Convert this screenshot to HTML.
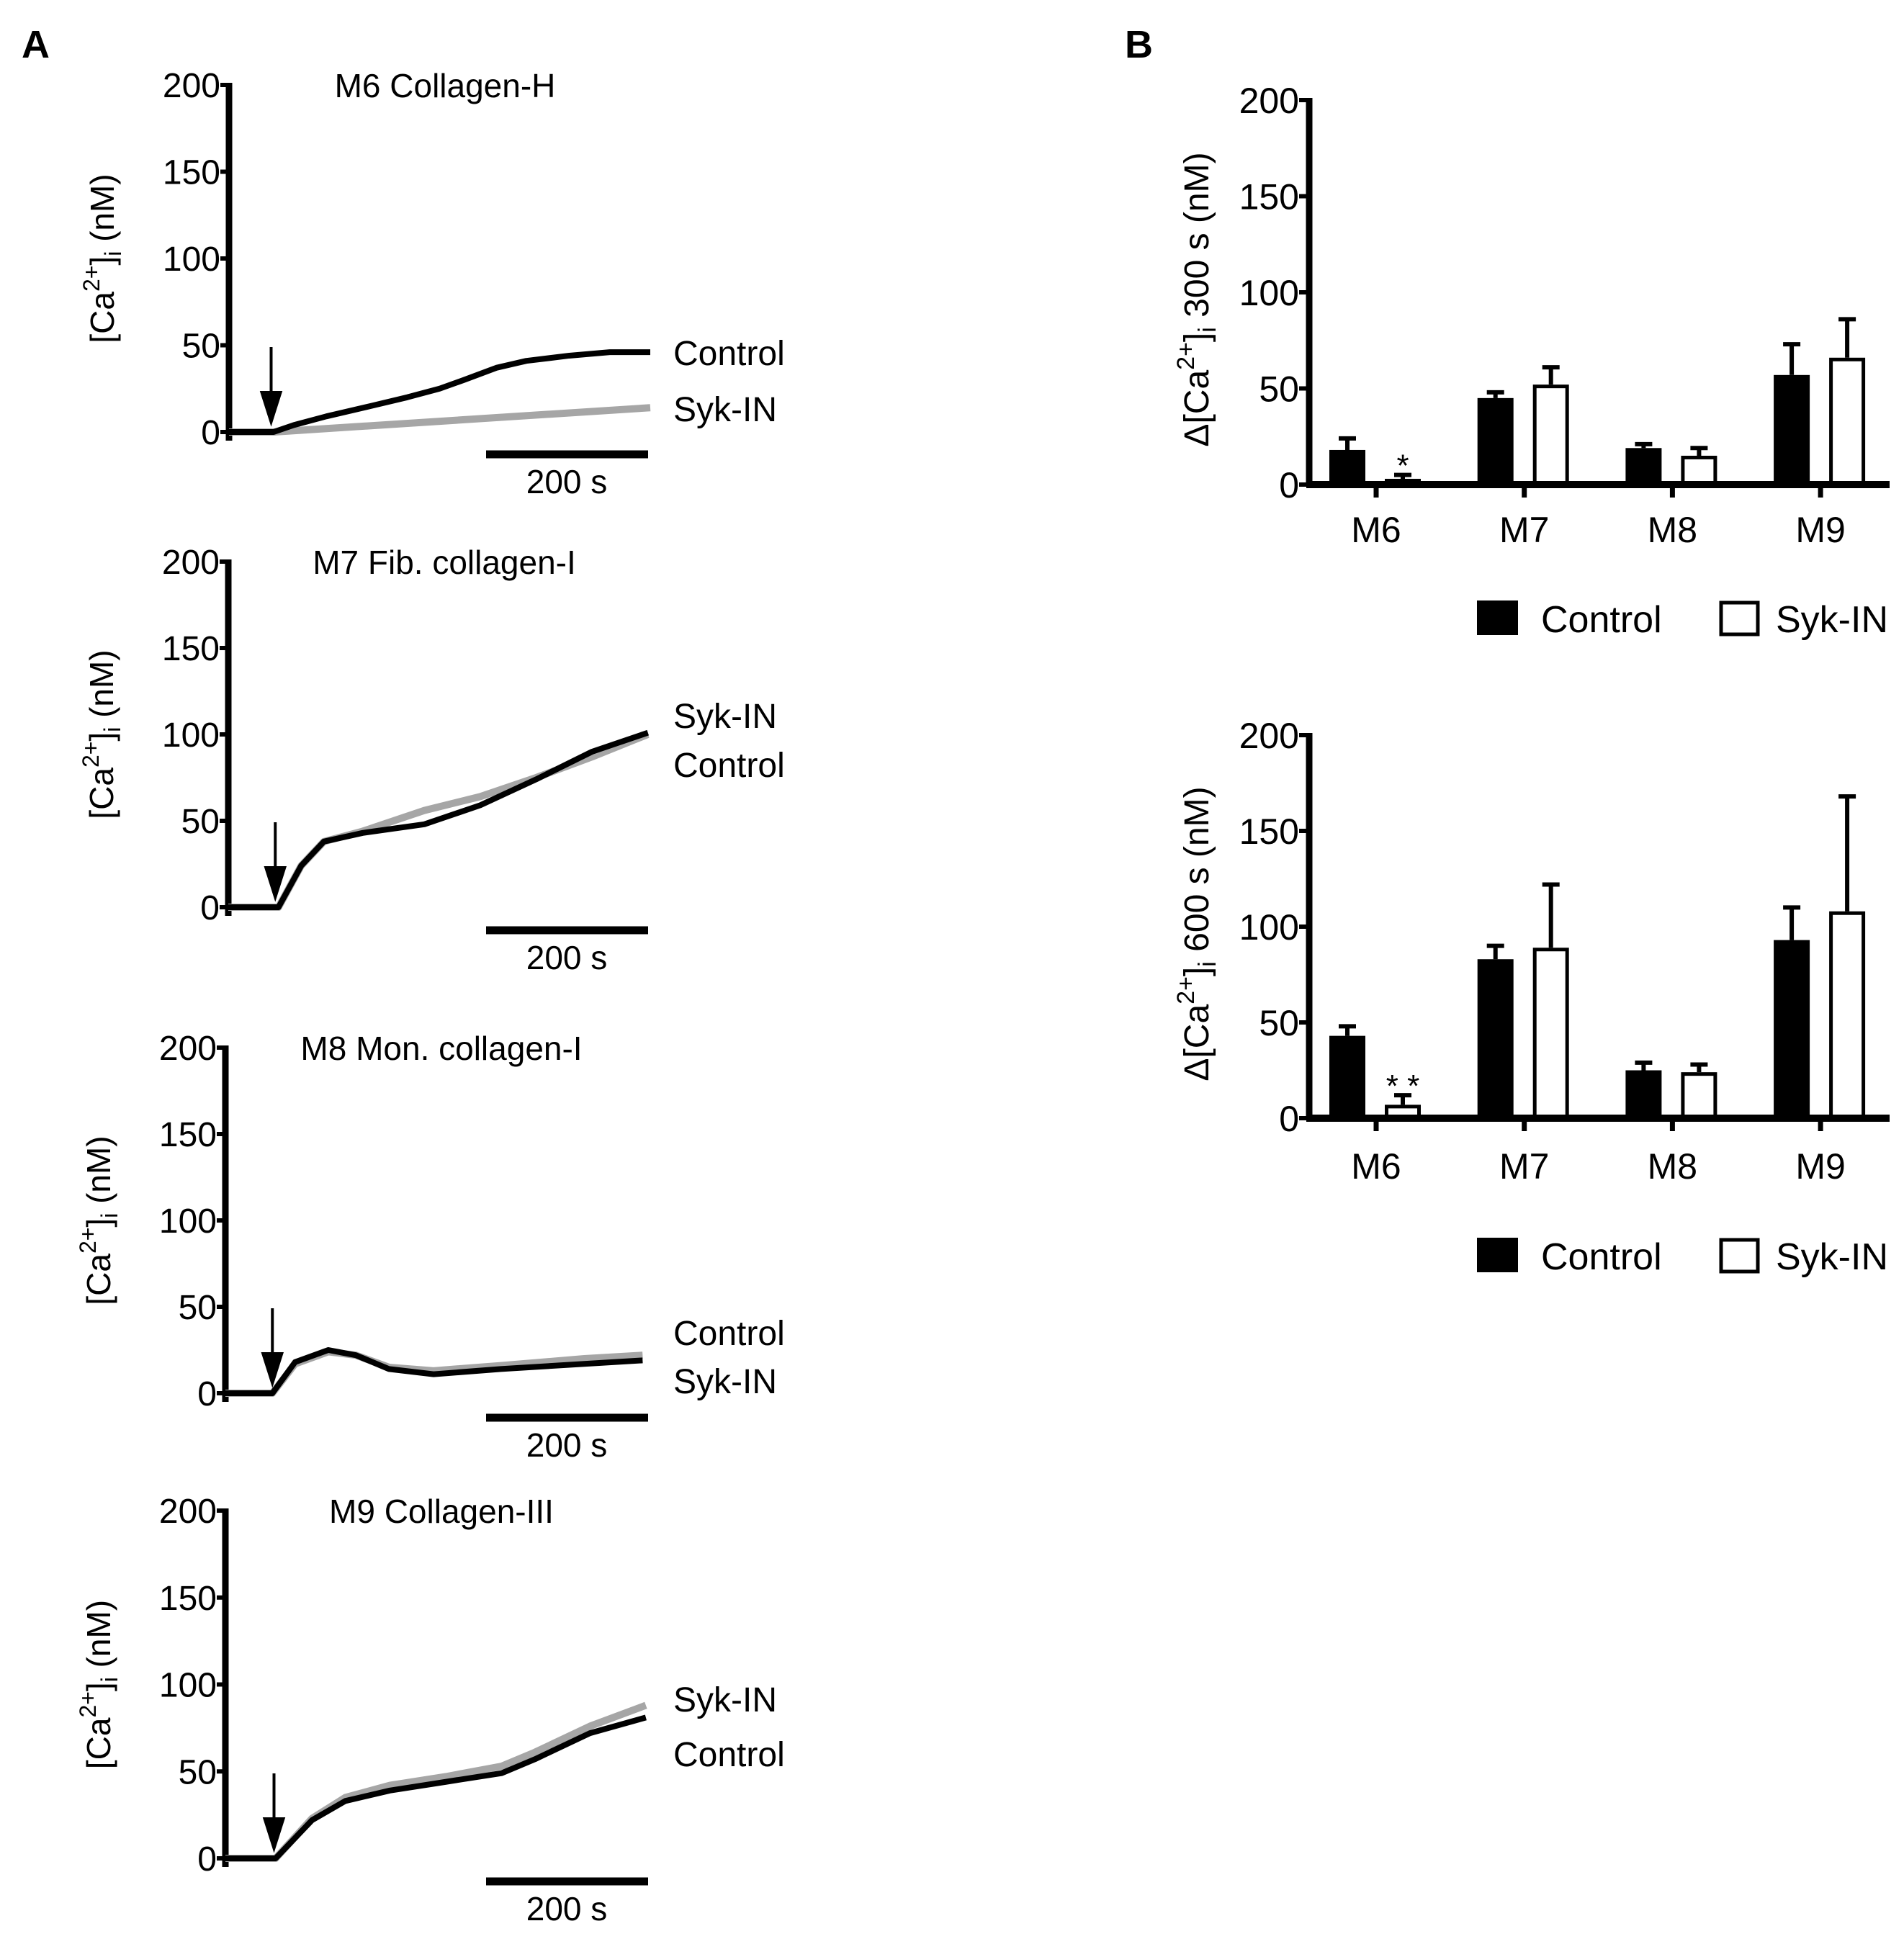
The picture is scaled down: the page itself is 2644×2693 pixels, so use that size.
<!DOCTYPE html>
<html><head><meta charset="utf-8"><style>
html,body{margin:0;padding:0;background:#fff}
svg{display:block}
text{font-family:"Liberation Sans",sans-serif;fill:#000}
</style></head><body>
<svg id="fig" width="2644" height="2693" viewBox="0 0 2644 2693" xmlns="http://www.w3.org/2000/svg">
<text x="30" y="80" font-size="54" font-weight="bold">A</text>
<text x="1562" y="80" font-size="54" font-weight="bold">B</text>
<g id="panels"></g>
</svg>
<script>
// ---- Panel A trace data (time in s, [Ca2+] in nM) ----
const tM6 = [0, 55, 80, 120, 175, 220, 260, 290, 330, 367, 420, 470, 520];
const ctrlM6 = [0, 0, 4, 9, 15, 20, 25, 30, 37, 41, 44, 46, 46];
const sykM6T = [0, 55, 520];
const sykM6 = [0, 0, 14];

const tM7 = [0, 62, 90, 118, 166, 242, 311, 380, 449, 518];
const ctrlM7 = [0, 0, 24, 38, 43, 48, 59, 74, 90, 101];
const sykM7 = [0, 0, 24, 38, 44, 56, 64, 75, 87, 100];

const tM8 = [0, 58, 86, 127, 161, 202, 257, 340, 443, 515];
const ctrlM8 = [0, 0, 18, 25, 22, 14, 11, 14, 17, 19];
const sykM8 = [0, 0, 17, 24, 22, 15, 13, 16, 20, 22];

const tM9 = [0, 62, 107, 148, 203, 272, 341, 382, 450, 519];
const ctrlM9 = [0, 0, 22, 33, 39, 44, 49, 57, 72, 81];
const sykM9 = [0, 0, 23, 35, 42, 47, 53, 61, 76, 88];

const aTicks = [0, 50, 100, 150, 200];

// ---- Panel B bar data ----
const groups = ["M6", "M7", "M8", "M9"];
const ctrl300 = [18, 45, 19, 57];
const ctrl300Err = [6, 3, 2, 16];
const syk300 = [3, 52, 15, 66];
const syk300Err = [2, 9, 4, 20];
const ctrl600 = [43, 83, 25, 93];
const ctrl600Err = [5, 7, 4, 17];
const syk600 = [7, 89, 24, 108];
const syk600Err = [5, 33, 4, 60];
const sig300Syk = ["*", "", "", ""];
const sig600Syk = ["**", "", "", ""];

const NS = "http://www.w3.org/2000/svg";
const root = document.getElementById("panels");
function mk(tag, attrs, parent) {
  const e = document.createElementNS(NS, tag);
  for (const k in attrs) e.setAttribute(k, attrs[k]);
  (parent || root).appendChild(e);
  return e;
}

const aPanels = [
  {title: "M6 Collagen-H", x0: 318, y200: 118, y0: 600, tc: tM6, c: ctrlM6, ts: sykM6T, s: sykM6, arrowT: 52, labels: [["Control", 490], ["Syk-IN", 568]], bar: 631, key: "m6"},
  {title: "M7 Fib. collagen-I", x0: 317, y200: 780, y0: 1260, tc: tM7, c: ctrlM7, ts: tM7, s: sykM7, arrowT: 58, labels: [["Syk-IN", 994], ["Control", 1062]], bar: 1292, key: "m7"},
  {title: "M8 Mon. collagen-I", x0: 313, y200: 1455, y0: 1935, tc: tM8, c: ctrlM8, ts: tM8, s: sykM8, arrowT: 58, labels: [["Control", 1851], ["Syk-IN", 1918]], bar: 1969, key: "m8"},
  {title: "M9 Collagen-III", x0: 313, y200: 2098, y0: 2581, tc: tM9, c: ctrlM9, ts: tM9, s: sykM9, arrowT: 60, labels: [["Syk-IN", 2360], ["Control", 2436]], bar: 2613, key: "m9"}
];
const pxPerS = 1.125;

aPanels.forEach(p => {
  const g = mk("g", {});
  
  
  const X = t => p.x0 + t * pxPerS;
  const Y = v => p.y0 - (v / 200) * (p.y0 - p.y200);
  const ax = mk("line", {x1: p.x0, y1: Y(200) - 3, x2: p.x0, y2: Y(0) + 12, stroke: "#000", "stroke-width": 9}, g);
  
  
  aTicks.forEach(v => {
    const tk = mk("line", {x1: p.x0 - 12, y1: Y(v), x2: p.x0, y2: Y(v), stroke: "#000", "stroke-width": 6}, g);
    
    
    const tl = mk("text", {x: p.x0 - 12, y: Y(v) + 17, "font-size": 48, "text-anchor": "end"}, g);
    tl.textContent = v;
    
    
  });
  const yl = mk("text", {x: 0, y: 0, "font-size": 46, "text-anchor": "middle", transform: `translate(${p.x0 - 160},${(Y(0) + Y(200)) / 2}) rotate(-90)`}, g);
  yl.innerHTML = '[Ca<tspan dy="-20" font-size="32">2+</tspan><tspan dy="20">]</tspan><tspan dy="10" font-size="32">i</tspan><tspan dy="-10"> (nM)</tspan>';
  
  
  const tt = mk("text", {x: p.x0 + 300, y: p.y200 + 17, "font-size": 46, "text-anchor": "middle"}, g);
  tt.textContent = p.title;
  
  
  const sp = mk("polyline", {points: p.ts.map((t, i) => X(t) + "," + Y(p.s[i])).join(" "), fill: "none", stroke: "#a6a6a6", "stroke-width": 10, "stroke-linejoin": "round"}, g);
  
  
  const cp = mk("polyline", {points: p.tc.map((t, i) => X(t) + "," + Y(p.c[i])).join(" "), fill: "none", stroke: "#000", "stroke-width": 8, "stroke-linejoin": "round"}, g);
  
  
  const axx = X(p.arrowT);
  const ar = mk("path", {d: `M${axx},${Y(0) - 118} L${axx},${Y(0) - 40} M${axx - 13},${Y(0) - 55} L${axx},${Y(0) - 14} L${axx + 13},${Y(0) - 55} Z`, stroke: "#000", "stroke-width": 4, fill: "#000"}, g);
  
  
  p.labels.forEach(l => {
    const lt = mk("text", {x: 935, y: l[1] + 17, "font-size": 48}, g);
    lt.textContent = l[0];
    
    
  });
  const sb = mk("line", {x1: 675, y1: p.bar, x2: 900, y2: p.bar, stroke: "#000", "stroke-width": 11}, g);
  
  
  const st = mk("text", {x: 787, y: p.bar + 54, "font-size": 46, "text-anchor": "middle"}, g);
  st.textContent = "200 s";
  
  
});

// ---- Panel B bar charts ----
const bPanels = [
  {y200: 139, y0: 673, c: ctrl300, ce: ctrl300Err, s: syk300, se: syk300Err, sig: sig300Syk, lab: "300 s", xlab: 735, leg: 860, key: "300s"},
  {y200: 1021, y0: 1553, c: ctrl600, ce: ctrl600Err, s: syk600, se: syk600Err, sig: sig600Syk, lab: "600 s", xlab: 1619, leg: 1745, key: "600s"}
];
const bx0 = 1818, groupX0 = 1911, groupStep = 205.7, barW = 50;

bPanels.forEach(p => {
  const g = mk("g", {});
  
  
  const Y = v => p.y0 - (v / 200) * (p.y0 - p.y200);
  const GX = i => groupX0 + i * groupStep;
  aTicks.forEach(v => {
    const tk = mk("line", {x1: bx0 - 14, y1: Y(v), x2: bx0, y2: Y(v), stroke: "#000", "stroke-width": 6}, g);
    
    
    const tl = mk("text", {x: bx0 - 14, y: Y(v) + 18, "font-size": 50, "text-anchor": "end"}, g);
    tl.textContent = v;
    
    
  });
  const yl = mk("text", {x: 0, y: 0, "font-size": 48, "text-anchor": "middle", transform: `translate(${bx0 - 140},${(p.y0 + p.y200) / 2 + 10}) rotate(-90)`}, g);
  yl.innerHTML = 'Δ[Ca<tspan dy="-20" font-size="34">2+</tspan><tspan dy="20">]</tspan><tspan dy="10" font-size="34">i</tspan><tspan dy="-10"> ' + p.lab + ' (nM)</tspan>';
  
  
  groups.forEach((name, i) => {
    const cx = GX(i) - 40, sx = GX(i) + 37;
    [[cx, p.c[i], p.ce[i]], [sx, p.s[i], p.se[i]]].forEach(e => {
      const el = mk("path", {d: `M${e[0]},${Y(e[1])} L${e[0]},${Y(e[1] + e[2])} M${e[0] - 12},${Y(e[1] + e[2])} L${e[0] + 12},${Y(e[1] + e[2])}`, stroke: "#000", "stroke-width": 6, fill: "none"}, g);
      
      
    });
    const cb = mk("rect", {x: cx - barW / 2, y: Y(p.c[i]), width: barW, height: Y(0) - Y(p.c[i]), fill: "#000"}, g);
    
    
    const sb = mk("rect", {x: sx - barW / 2 + 2.5, y: Y(p.s[i]) + 2.5, width: barW - 5, height: Math.max(0, Y(0) - Y(p.s[i]) - 2.5), fill: "#fff", stroke: "#000", "stroke-width": 5}, g);
    
    
    if (p.sig[i]) {
      const st = mk("text", {x: sx, y: Y(p.s[i] + p.se[i]) + 2, "font-size": 44, "text-anchor": "middle"}, g);
      st.textContent = p.sig[i].split("").join(" ");
      
      
    }
    const xt = mk("line", {x1: GX(i), y1: Y(0), x2: GX(i), y2: Y(0) + 18, stroke: "#000", "stroke-width": 7}, g);
    
    
    const xl = mk("text", {x: GX(i), y: p.xlab + 18, "font-size": 50, "text-anchor": "middle"}, g);
    xl.textContent = name;
    
    
  });
  const ya = mk("line", {x1: bx0, y1: p.y200 - 3, x2: bx0, y2: p.y0, stroke: "#000", "stroke-width": 9}, g);
  
  
  const xa = mk("line", {x1: bx0 - 4, y1: p.y0, x2: 2624, y2: p.y0, stroke: "#000", "stroke-width": 10}, g);
  
  
  const l1 = mk("rect", {x: 2051, y: p.leg - 26, width: 57, height: 48, fill: "#000"}, g);
  
  
  const lt1 = mk("text", {x: 2140, y: p.leg + 18, "font-size": 52}, g);
  lt1.textContent = "Control";
  
  
  const l2 = mk("rect", {x: 2390, y: p.leg - 23, width: 51, height: 44, fill: "#fff", stroke: "#000", "stroke-width": 5}, g);
  
  
  const lt2 = mk("text", {x: 2466, y: p.leg + 18, "font-size": 52}, g);
  lt2.textContent = "Syk-IN";
  
  
});
</script>
</body></html>
